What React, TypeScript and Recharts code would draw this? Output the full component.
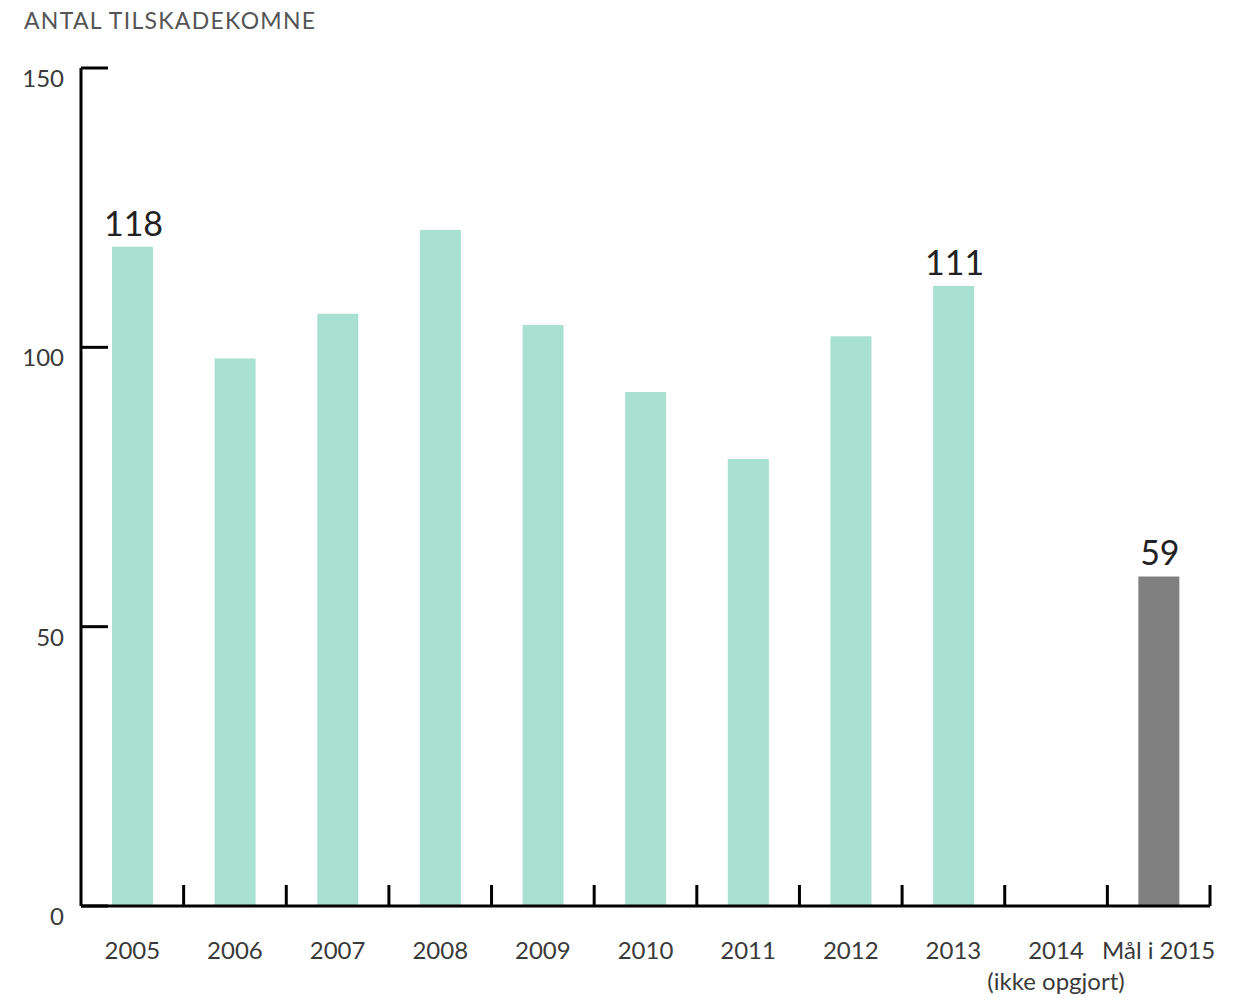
import React from 'react';
import { BarChart, Bar, XAxis, YAxis, Cell, LabelList } from 'recharts';

const categories = ['2005', '2006', '2007', '2008', '2009', '2010', '2011', '2012', '2013', '2014\n(ikke opgjort)', 'Mål i 2015'];
const values: (number | null)[] = [118, 98, 106, 121, 104, 92, 80, 102, 111, null, 59];
const valueLabels = ['118', '', '', '', '', '', '', '', '111', '', '59'];
const isTarget = [false, false, false, false, false, false, false, false, false, false, true];
const yTicks = [0, 50, 100, 150];
const title = 'ANTAL TILSKADEKOMNE';

const data = categories.map((c, i) => ({ name: c, value: values[i], label: valueLabels[i] }));

const W = 1242;
const H = 998;
const Y_AXIS_W = 81;
const X_AXIS_H = 92;
const MARGIN = { top: 68, right: 32, left: 0, bottom: 0 };
const PLOT_W = W - MARGIN.left - MARGIN.right - Y_AXIS_W;
const BAND = PLOT_W / categories.length;
const FONT = 'Lato, "Open Sans", sans-serif';
const TEXT = '#3a3a3a';

const YTick = (props: any) => {
  const { x, y, payload } = props;
  return (
    <g>
      <line x1={x} x2={x + 27} y1={y} y2={y} stroke="#000" strokeWidth={3} />
      <text x={x - 17} y={y + 19} textAnchor="end" fontSize={24} fill={TEXT} fontFamily={FONT}>
        {payload.value}
      </text>
    </g>
  );
};

const XTick = (props: any) => {
  const { x, y, payload } = props;
  const lines = String(payload.value).split('\n');
  return (
    <g>
      <line x1={x + BAND / 2} x2={x + BAND / 2} y1={y} y2={y - 21} stroke="#000" strokeWidth={3} />
      {lines.map((l, i) => (
        <text key={i} x={x} y={y + 53 + i * 31} textAnchor="middle" fontSize={24} fill={TEXT} fontFamily={FONT}>
          {l}
        </text>
      ))}
    </g>
  );
};

const ValueLabel = (props: any) => {
  const { x, y, width, value } = props;
  if (!value) return null;
  return (
    <text x={x + width / 2 + 1} y={y - 11} textAnchor="middle" fontSize={34} fill="#222" fontFamily={FONT}>
      {value}
    </text>
  );
};

export default function App() {
  return (
    <div style={{ position: 'absolute', left: 0, top: 0, width: W, height: H, background: '#fff' }}>
      <div
        style={{
          position: 'absolute',
          left: 24,
          top: 9,
          fontSize: 23,
          lineHeight: '23px',
          letterSpacing: 1.3,
          fontFamily: FONT,
          color: '#555',
          whiteSpace: 'nowrap',
        }}
      >
        {title}
      </div>
      <BarChart width={W} height={H} data={data} margin={MARGIN}>
        <XAxis
          dataKey="name"
          height={X_AXIS_H}
          axisLine={{ stroke: '#000', strokeWidth: 3 }}
          tickLine={false}
          tickSize={0}
          tickMargin={0}
          interval={0}
          tick={<XTick />}
        />
        <YAxis
          width={Y_AXIS_W}
          domain={[0, 150]}
          ticks={yTicks}
          axisLine={{ stroke: '#000', strokeWidth: 3 }}
          tickLine={false}
          tickSize={0}
          tickMargin={0}
          interval={0}
          tick={<YTick />}
        />
        <Bar dataKey="value" barSize={41} isAnimationActive={false}>
          {data.map((d, i) => (
            <Cell key={i} fill={isTarget[i] ? '#808080' : '#a8e0d2'} />
          ))}
          <LabelList dataKey="label" content={<ValueLabel />} />
        </Bar>
      </BarChart>
    </div>
  );
}
